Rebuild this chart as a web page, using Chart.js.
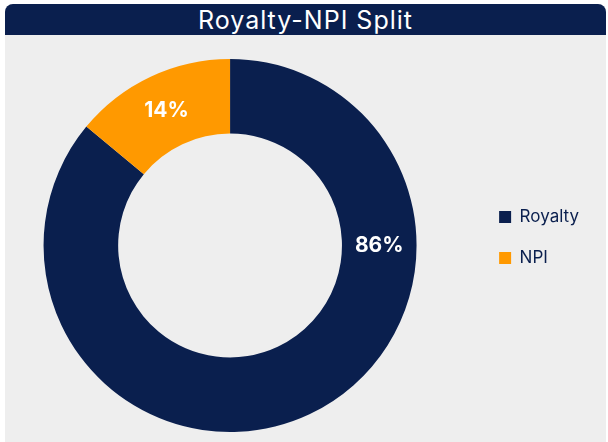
<!DOCTYPE html>
<html>
<head>
<meta charset="utf-8">
<script src="https://cdn.jsdelivr.net/npm/chart.js@4/dist/chart.umd.min.js"></script>
<style>
 html,body{margin:0;padding:0;background:#fff;width:608px;height:442px;overflow:hidden;}
 #card{position:absolute;left:5px;top:4px;width:601px;height:438px;background:#eeeeee;border-radius:8px 8px 0 0;overflow:hidden;}
 #title{height:31px;background:#0a1f4e;color:#fff;font-family:Inter,"Open Sans",sans-serif;font-size:25px;letter-spacing:1px;line-height:32px;text-align:center;}
 #wrap{position:absolute;left:-20px;top:31px;width:621px;height:407px;}
</style>
</head>
<body>
<div id="card">
 <div id="title">Royalty-NPI Split</div>
 <div id="wrap"><canvas id="splitChart"></canvas></div>
</div>
<script>
// Data
var labels = ["Royalty", "NPI"];
var shares = [86, 14];
var colors = ["#0a1f4e", "#ff9900"];

// draws the % text on each slice
var sliceLabels = {
 id: 'sliceLabels',
 afterDatasetsDraw: function(chart, args, opts) {
  var ctx = chart.ctx;
  var meta = chart.getDatasetMeta(0);
  ctx.save();
  ctx.font = 'bold 21px Inter, "Open Sans", sans-serif';
  ctx.fillStyle = '#ffffff';
  ctx.textAlign = 'center';
  ctx.textBaseline = 'middle';
  meta.data.forEach(function(arc, i) {
   var mid = opts.angles[i] != null ? opts.angles[i] : (arc.startAngle + arc.endAngle) / 2;
   var r = (arc.innerRadius + arc.outerRadius) / 2;
   var x = arc.x + Math.cos(mid) * r;
   var y = arc.y + Math.sin(mid) * r;
   ctx.fillText(shares[i] + '%', x, y);
  });
  ctx.restore();
 }
};

// nudge the legend up a little
var legendNudge = {
 id: 'legendNudge',
 afterLayout: function(chart) {
  if (chart.legend) {
   chart.legend.top -= 8;
   chart.legend.bottom -= 8;
  }
 }
};

var ctx = document.getElementById('splitChart');

new Chart(ctx, {
 type: 'doughnut',
 data: {
  labels: labels,
  datasets: [{
   data: shares,
   backgroundColor: colors,
   borderWidth: 0
  }]
 },
 options: {
  responsive: true,
  maintainAspectRatio: false,
  animation: false,
  cutout: '60%',
  layout: { padding: { top: 24, bottom: 10, left: 0, right: 17 } },
  plugins: {
   legend: {
    position: 'right',
    labels: {
     boxWidth: 12,
     boxHeight: 12,
     padding: 24,
     color: '#0a1f4e',
     font: { family: 'Inter, "Open Sans", sans-serif', size: 17 }
    }
   },
   tooltip: { enabled: false },
   sliceLabels: { angles: [0, null] }
  }
 },
 plugins: [sliceLabels, legendNudge]
});
</script>
</body>
</html>
